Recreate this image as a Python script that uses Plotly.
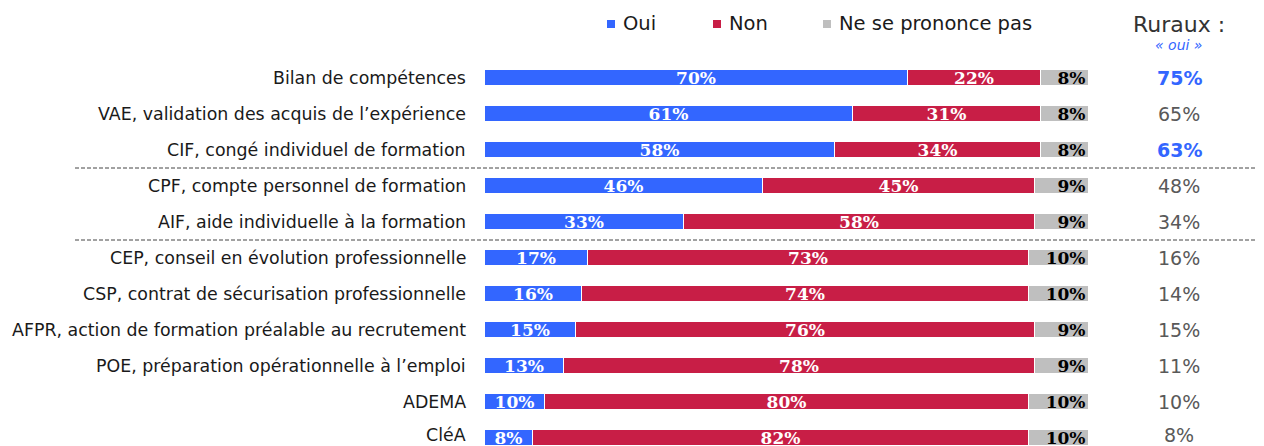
import plotly.graph_objects as go

categories = [
    "Bilan de compétences",
    "VAE, validation des acquis de l’expérience",
    "CIF, congé individuel de formation",
    "CPF, compte personnel de formation",
    "AIF, aide individuelle à la formation",
    "CEP, conseil en évolution professionnelle",
    "CSP, contrat de sécurisation professionnelle",
    "AFPR, action de formation préalable au recrutement",
    "POE, préparation opérationnelle à l’emploi",
    "ADEMA",
    "CléA",
]
oui = [70, 61, 58, 46, 33, 17, 16, 15, 13, 10, 8]
non = [22, 31, 34, 45, 58, 73, 74, 76, 78, 80, 82]
nsp = [8, 8, 8, 9, 9, 10, 10, 9, 9, 10, 10]
ruraux = [75, 65, 63, 48, 34, 16, 14, 15, 11, 10, 8]
ruraux_sig = [True, False, True, False, False, False, False, False, False, False, False]
series_names = ["Oui", "Non", "Ne se prononce pas"]
separators_after = [2, 4]

colors = ["#3366FF", "#C81E46", "#BFBFBF"]
text_colors = ["white", "white", "black"]

# page has an 8px body margin; work in screen pixels and convert
OFF = 8
W, H = 1264 - OFF, 446 - OFF


def px(x):
    return (x - OFF) / W


def py(y):
    return 1 - (y - OFF) / H


x0_px, x1_px = 485, 1089
row0_px, row_step = 78, 36
n = len(categories)
ypos = list(range(n))
y_top = -(row0_px - OFF) / row_step
y_bot = y_top + H / row_step

fig = go.Figure()
for vals, name, col, tcol in zip([oui, non, nsp], series_names, colors, text_colors):
    fig.add_trace(go.Bar(
        y=ypos, x=vals, orientation="h", name=name,
        marker=dict(color=col, line=dict(color="white", width=1)),
        text=[f"{v}%" for v in vals],
        textposition="inside",
        insidetextanchor="end" if name == series_names[2] else "middle",
        constraintext="none",
        textfont=dict(family="DejaVu Serif", size=17, color=tcol),
        texttemplate="<b>%{text}</b>",
        width=0.46,
        showlegend=False,
    ))

ann = []
for i, c in enumerate(categories):
    ys = 3 if i == n - 1 else 0
    ann.append(dict(x=px(468), y=i, xref="paper", yref="y", text=c, showarrow=False,
                    xanchor="right", yanchor="middle", yshift=ys,
                    font=dict(family="DejaVu Sans", size=17.4, color="#1a1a1a")))
    r = ruraux[i]
    ann.append(dict(x=px(1179), y=i, xref="paper", yref="y",
                    text=f"<b>{r}%</b>" if ruraux_sig[i] else f"{r}%",
                    showarrow=False, xanchor="center", yanchor="middle", yshift=ys,
                    font=dict(family="DejaVu Sans", size=19,
                              color="#3366FF" if ruraux_sig[i] else "#595959")))

ann.append(dict(x=px(1179), y=py(24), xref="paper", yref="paper", text="Ruraux :",
                showarrow=False, xanchor="center", yanchor="middle",
                font=dict(family="DejaVu Sans", size=22, color="#333333")))
ann.append(dict(x=px(1179), y=py(45), xref="paper", yref="paper", text="<i>« oui »</i>",
                showarrow=False, xanchor="center", yanchor="middle",
                font=dict(family="DejaVu Sans", size=14, color="#3366FF")))

shapes = []
leg_x = [607, 713, 823]
for name, col, lx in zip(series_names, colors, leg_x):
    shapes.append(dict(type="rect", xref="paper", yref="paper",
                       x0=px(lx), x1=px(lx + 8), y0=py(28), y1=py(20),
                       fillcolor=col, line=dict(width=0)))
    ann.append(dict(x=px(lx + 14), y=py(23), xref="paper", yref="paper", text=name,
                    showarrow=False, xanchor="left", yanchor="middle",
                    font=dict(family="DejaVu Sans", size=19.5, color="#1a1a1a")))

for s in separators_after:
    shapes.append(dict(type="line", xref="paper", yref="y", x0=px(75), x1=1,
                       y0=s + 0.5, y1=s + 0.5,
                       line=dict(color="#444444", width=1, dash="4px,2px")))

fig.update_layout(
    width=W, height=H, barmode="stack", bargap=0,
    margin=dict(l=0, r=0, t=0, b=0),
    plot_bgcolor="white", paper_bgcolor="white",
    xaxis=dict(domain=[px(x0_px), px(x1_px)], range=[0, 100], visible=False, fixedrange=True),
    yaxis=dict(range=[y_bot, y_top], visible=False, fixedrange=True),
    annotations=ann, shapes=shapes,
    showlegend=False,
)
fig.write_html("out.html")
